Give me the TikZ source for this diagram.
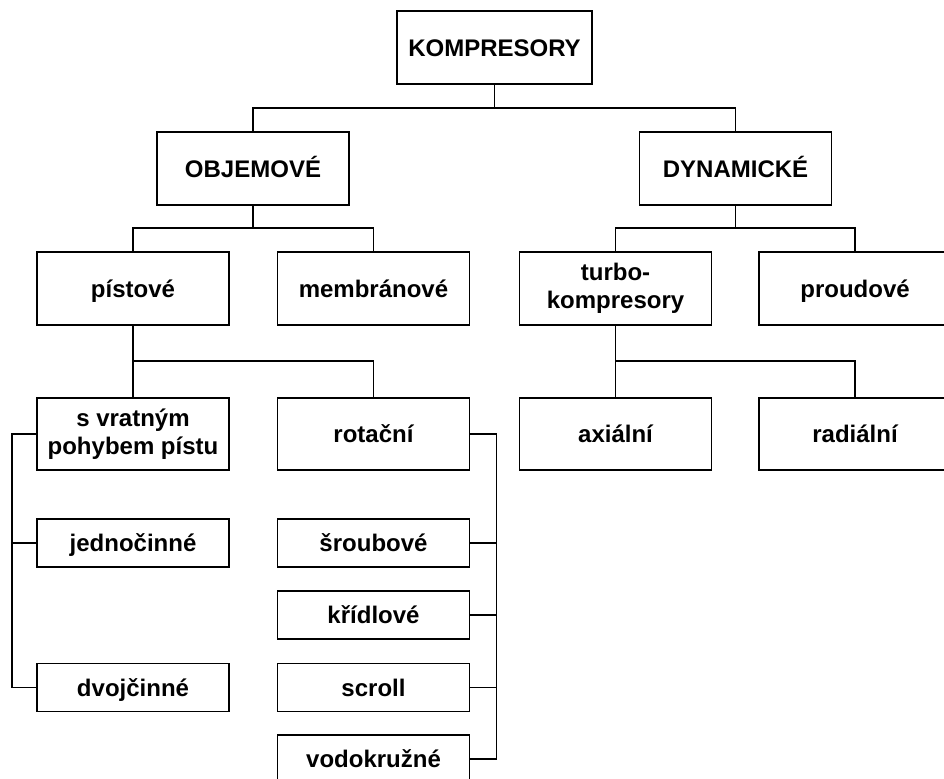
\documentclass[tikz,border=0pt]{standalone}
\usepackage{fontspec}
\setmainfont{Liberation Sans}
\begin{document}
\begin{tikzpicture}[x=0.75pt,y=-0.75pt,
  mbox/.style={draw=black,line width=1.4pt,fill=white,minimum width=144pt,minimum height=54.5pt,
    inner sep=0pt,align=center,font=\bfseries\fontsize{18}{21}\selectfont},
  box/.style={mbox,text height=12.9pt,text depth=0pt},
  sbox/.style={box,minimum height=36pt},
  conn/.style={draw=black,line width=1.4pt}]
\useasboundingbox (0,0) rectangle (944,778);
\clip (0,0) rectangle (944,778);
\fill[white] (0,0) rectangle (944,778);
% level 0 and 1
\node[box,minimum width=146pt] (komp) at (494.5,47.5) {KOMPRESORY};
\node[box] (obj) at (253,168.5) {OBJEMOVÉ};
\node[box] (dyn) at (735.5,168.5) {DYNAMICKÉ};
% level 2
\node[box] (pist) at (133,288.5) {pístové};
\node[box] (memb) at (373.5,288.5) {membránové};
\node[mbox] (turbo) at (615.5,288.5) {turbo-\\kompresory};
\node[box] (proud) at (855,288.5) {proudové};
% level 3
\node[mbox] (svr) at (133,434) {s vratným\\pohybem pístu};
\node[box] (rot) at (373.5,434) {rotační};
\node[box] (axi) at (615.5,434) {axiální};
\node[box] (rad) at (855,434) {radiální};
% level 4
\node[sbox] (jedn) at (133,543) {jednočinné};
\node[sbox] (dvoj) at (133,687.5) {dvojčinné};
\node[sbox] (srou) at (373.5,543) {šroubové};
\node[sbox] (krid) at (373.5,615) {křídlové};
\node[sbox] (scro) at (373.5,687.5) {scroll};
\node[sbox] (vodo) at (373.5,759) {vodokružné};
% junctions
\coordinate (j0) at (494.5,107.7);
\coordinate (j1) at (253,228.3);
\coordinate (j2) at (735.5,228.3);
\coordinate (j3) at (133,360.7);
\coordinate (j4) at (615.5,360.7);
% connectors
\draw[conn] (komp.south) -- (j0);
\draw[conn] (j0) -| (obj.north);
\draw[conn] (j0) -| (dyn.north);
\draw[conn] (obj.south) -- (j1);
\draw[conn] (j1) -| (pist.north);
\draw[conn] (j1) -| (memb.north);
\draw[conn] (dyn.south) -- (j2);
\draw[conn] (j2) -| (turbo.north);
\draw[conn] (j2) -| (proud.north);
\draw[conn] (pist.south) -- (j3);
\draw[conn] (j3) -| (svr.north);
\draw[conn] (j3) -| (rot.north);
\draw[conn] (turbo.south) -- (j4);
\draw[conn] (j4) -| (axi.north);
\draw[conn] (j4) -| (rad.north);
% left comb
\draw[conn] (svr.west) -- ++(-24,0) |- (dvoj.west);
\draw[conn] (jedn.west) -- ++(-24,0);
% right comb
\draw[conn] (rot.east) -- ++(26,0) |- (vodo.east);
\draw[conn] (srou.east) -- ++(26,0);
\draw[conn] (krid.east) -- ++(26,0);
\draw[conn] (scro.east) -- ++(26,0);
\end{tikzpicture}
\end{document}
